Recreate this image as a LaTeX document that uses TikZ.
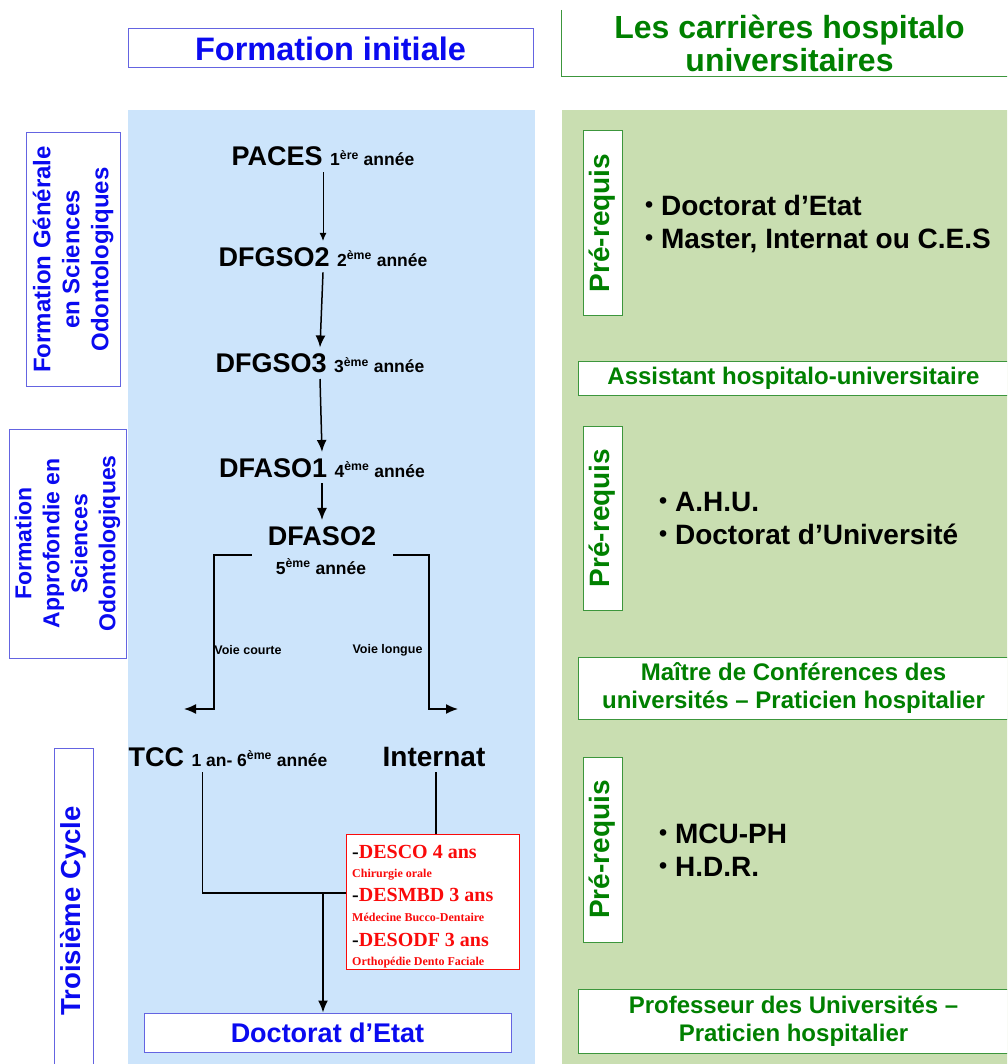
\documentclass[tikz,border=0pt]{standalone}
\usepackage{fontspec}
\setmainfont{Liberation Sans}
\newfontfamily\serifbold{Liberation Serif}
\usetikzlibrary{arrows,arrows.meta,positioning}
\definecolor{titleblue}{RGB}{10,10,240}
\definecolor{frameblue}{RGB}{100,100,225}
\definecolor{paleblue}{RGB}{204,228,251}
\definecolor{darkgreen}{RGB}{0,128,0}
\definecolor{framegreen}{RGB}{60,150,60}
\definecolor{palegreen}{RGB}{201,222,177}
\definecolor{desred}{RGB}{250,10,10}
\newcommand{\fsz}[2]{\fontsize{#1}{#2}\selectfont}
\newcommand{\annee}[2]{{\fsz{17.5}{20}#1\textsuperscript{#2} année}}
\newcommand{\dotitem}{\raisebox{2.5pt}{\fsz{23}{24}•}\ }

\begin{document}
\begin{tikzpicture}[x=1pt, y=-1pt, >={Latex[length=12pt,width=10pt]}]
\tikzstyle{blank}=[inner sep=0pt, text centered]
\tikzstyle{year}=[blank, anchor=base, inner ysep=6pt, font=\bfseries\fsz{27}{30}]
\tikzstyle{bluebox}=[draw=frameblue, line width=1pt, fill=white, inner sep=0pt, text=titleblue]
\tikzstyle{sidebox}=[bluebox, rotate=90, align=center, font=\bfseries\fsz{24}{29}]
\tikzstyle{greenbox}=[draw=framegreen, line width=1pt, fill=white, inner sep=0pt, text=darkgreen, align=center, font=\bfseries\fsz{24}{28.5}]
\tikzstyle{prebox}=[greenbox, rotate=90, minimum height=39pt, font=\bfseries\fsz{28}{30}]
\tikzstyle{bullets}=[anchor=west, inner sep=0pt, align=left, font=\bfseries\fsz{28}{33}]
\tikzstyle{desline}=[anchor=base west, inner sep=0pt, text=desred, font=\serifbold\bfseries\fsz{20}{22}]
\tikzstyle{desnote}=[anchor=base west, inner sep=0pt, text=desred, font=\serifbold\bfseries\fsz{12}{14}]
\tikzstyle{flow}=[->, line width=1.5pt]

\useasboundingbox (0,0) rectangle (1007,1064);
\clip (0,0) rectangle (1007,1064);
\fill[paleblue] (128,110) rectangle (535,1070);
\fill[palegreen] (562,110) rectangle (1012,1070);

\node[bluebox, minimum width=405pt, minimum height=39pt, font=\bfseries\fsz{32.5}{34}] (initiale) at (330.5,48.5) {Formation initiale};
\node[blank, minimum width=455pt, minimum height=66pt, align=center, text=darkgreen, font=\bfseries\fsz{32}{33}] (carrieres) at (789.5,43) {Les carrières hospitalo\\universitaires};
\draw[framegreen, line width=1pt] (carrieres.north west) |- (carrieres.south east);

\node[sidebox, minimum width=253pt, minimum height=94pt] (fgso) at (73,259.5) {Formation Générale\\en Sciences\\Odontologiques};
\node[sidebox, minimum width=229pt, minimum height=117pt, font=\bfseries\fsz{23}{28}] (faso) at (67.5,543.5) {Formation\\Approfondie en\\Sciences\\Odontologiques};
\node[sidebox, minimum width=326pt, minimum height=39pt, font=\bfseries\fsz{27.5}{30}] (cycle) at (73.5,911) {Troisième Cycle};

\node[year] (paces) at (323,166) {PACES \annee{1}{ère}};
\node[year] (dfgso2) at (323,266) {DFGSO2 \annee{2}{ème}};
\node[year] (dfgso3) at (320,372.5) {DFGSO3 \annee{3}{ème}};
\node[year] (dfaso1) at (322,477) {DFASO1 \annee{4}{ème}};
\node[year] (dfaso2) at (322,545) {DFASO2};
\node[year] (dfaso2an) at (321,574) {\annee{5}{ème}};
\node[blank, font=\bfseries\fsz{12.5}{14}] (courte) at (248,650) {Voie courte};
\node[blank, font=\bfseries\fsz{12.5}{14}] (longue) at (387.5,650) {Voie longue};
\coordinate (courtend) at (184,709);
\coordinate (longend) at (458,709);
\node[year] (tcc) at (228,766) {TCC \annee{1 an- 6}{ème}};
\node[year, font=\bfseries\fsz{28}{30}] (internat) at (434,766) {Internat};

\node[draw=desred, line width=1pt, fill=white, minimum width=173pt, minimum height=135pt, inner sep=0pt] (desbox) at (432.5,901.5) {};
\node[desline] (desco) at (352,858.5) {\textcolor{black}{-}DESCO 4 ans};
\node[desnote] (chir) at (352,877) {Chirurgie orale};
\node[desline] (desmbd) at (352,901.5) {\textcolor{black}{-}DESMBD 3 ans};
\node[desnote] (mbd) at (352,921) {Médecine Bucco-Dentaire};
\node[desline] (desodf) at (352,946.5) {\textcolor{black}{-}DESODF 3 ans};
\node[desnote] (odf) at (352,965) {Orthopédie Dento Faciale};

\node[bluebox, minimum width=367pt, minimum height=39pt, font=\bfseries\fsz{27}{30}] (doctorat) at (327.5,1032.5) {Doctorat d’Etat};
\coordinate (join) at (323,893);

\draw[->, line width=1pt, >={Latex[length=8pt,width=7pt]}] (paces.south) -- (dfgso2.north);
\draw[flow] (dfgso2.south) -- (dfgso3.north);
\draw[flow] (dfgso3.south) -- (dfaso1.north);
\draw[flow] (dfaso1.south) -- (dfaso2.north);
\draw[flow] (dfaso2.base west) ++(-16,10) -- ++(-38,0) |- (courtend);
\draw[flow] (dfaso2.base east) ++(17,10) -- ++(36,0) |- (longend);
\draw[line width=1.5pt] (tcc.base west) ++(74,6) |- (join) -- (join -| desbox.west);
\draw[line width=1.5pt] (internat.base) ++(2,6) -- ++(0,62);
\draw[flow] (join) -- (join |- doctorat.north);

\node[prebox, minimum width=184pt] (pre1) at (602.5,223) {Pré-requis};
\node[bullets] (pre1txt) at (645,224) {\dotitem Doctorat d’Etat\\\dotitem Master, Internat ou C.E.S};
\node[greenbox, minimum width=431pt, minimum height=34pt] (ahu) at (793.5,378) {Assistant hospitalo-universitaire};
\node[prebox, minimum width=184pt] (pre2) at (602.5,518) {Pré-requis};
\node[bullets] (pre2txt) at (659,518.5) {\dotitem A.H.U.\\\dotitem Doctorat d’Université};
\node[greenbox, minimum width=431pt, minimum height=62pt] (mcu) at (793.5,688) {Maître de Conférences des\\universités – Praticien hospitalier};
\node[prebox, minimum width=185pt] (pre3) at (602.5,849.5) {Pré-requis};
\node[bullets] (pre3txt) at (659,850) {\dotitem MCU-PH\\\dotitem H.D.R.};
\node[greenbox, minimum width=431pt, minimum height=64pt] (pu) at (793.5,1021) {Professeur des Universités –\\Praticien hospitalier};
\end{tikzpicture}
\end{document}
